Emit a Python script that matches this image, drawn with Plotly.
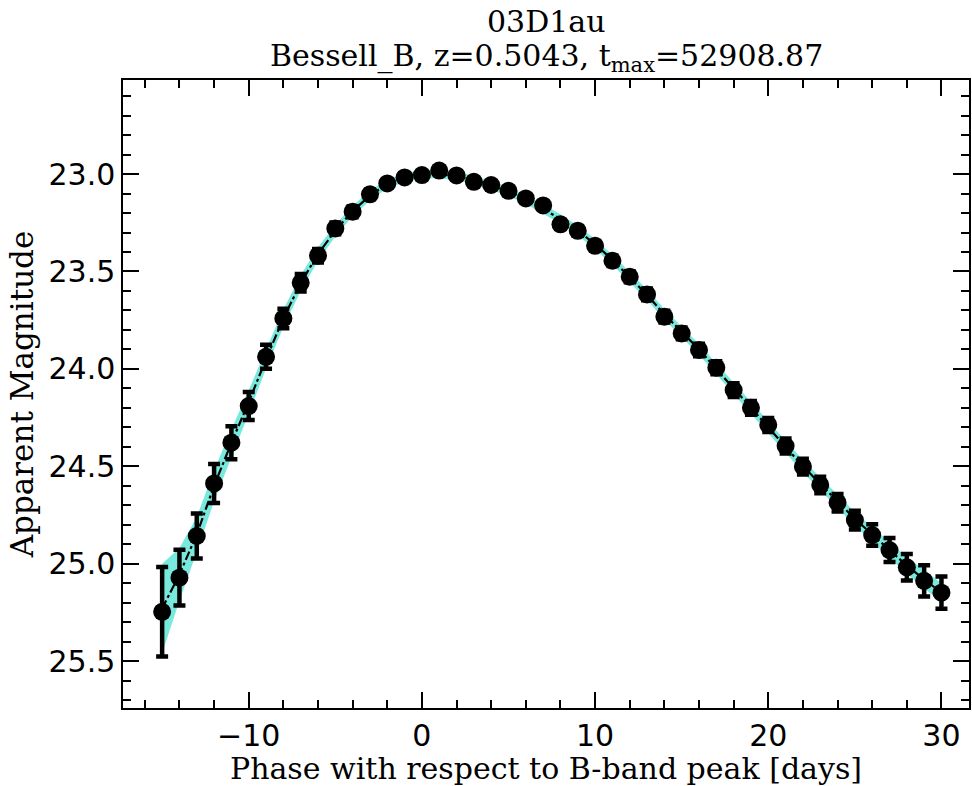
import plotly.graph_objects as go

# ---- data ----
phase = list(range(-15, 31))
mag = [25.247, 25.072, 24.858, 24.588, 24.379, 24.191, 23.938, 23.741, 23.558, 23.419,
       23.279, 23.193, 23.104, 23.048, 23.017, 23.005, 22.982, 23.007, 23.040, 23.056,
       23.086, 23.125, 23.161, 23.258, 23.291, 23.368, 23.445, 23.527, 23.618, 23.732,
       23.818, 23.903, 23.994, 24.109, 24.200, 24.288, 24.396, 24.502, 24.596, 24.687,
       24.776, 24.853, 24.930, 25.019, 25.088, 25.149]
mag_err = [0.230, 0.143, 0.115, 0.100, 0.085, 0.072, 0.062, 0.050, 0.045, 0.035,
           0.030, 0.028, 0.025, 0.022, 0.020, 0.020, 0.020, 0.020, 0.020, 0.020,
           0.020, 0.022, 0.022, 0.024, 0.025, 0.025, 0.027, 0.028, 0.030, 0.030,
           0.030, 0.032, 0.033, 0.035, 0.035, 0.036, 0.038, 0.040, 0.042, 0.045,
           0.048, 0.055, 0.062, 0.068, 0.080, 0.083]
model = [25.23, 25.055, 24.85, 24.60, 24.38, 24.17, 23.95, 23.74, 23.56, 23.41,
         23.29, 23.19, 23.11, 23.05, 23.02, 23.00, 23.00, 23.01, 23.03, 23.06,
         23.09, 23.13, 23.18, 23.23, 23.29, 23.36, 23.44, 23.53, 23.62, 23.72,
         23.81, 23.90, 24.00, 24.10, 24.20, 24.30, 24.40, 24.50, 24.59, 24.68,
         24.77, 24.85, 24.93, 25.01, 25.08, 25.15]
model_err = [0.23, 0.135, 0.09, 0.08, 0.07, 0.06, 0.05, 0.045, 0.040, 0.035,
             0.030, 0.027, 0.025, 0.023, 0.022, 0.022, 0.022, 0.022, 0.022, 0.022,
             0.022, 0.023, 0.023, 0.024, 0.025, 0.025, 0.026, 0.026, 0.027, 0.027,
             0.028, 0.028, 0.029, 0.029, 0.030, 0.030, 0.031, 0.032, 0.033, 0.034,
             0.035, 0.037, 0.040, 0.043, 0.047, 0.050]

title_line1 = "03D1au"
title_line2 = "Bessell_B, z=0.5043, t<sub>max</sub>=52908.87"
xlabel = "Phase with respect to B-band peak [days]"
ylabel = "Apparent Magnitude"

upper = [m - e for m, e in zip(model, model_err)]
lower = [m + e for m, e in zip(model, model_err)]

fig = go.Figure()
fig.add_trace(go.Scatter(x=phase + phase[::-1], y=upper + lower[::-1], fill="toself",
                         fillcolor="rgba(64,224,208,0.7)", line=dict(width=0),
                         mode="lines", hoverinfo="skip", showlegend=False))
fig.add_trace(go.Scatter(x=phase, y=model, mode="lines",
                         line=dict(color="black", width=2.2, dash="dashdot"),
                         showlegend=False))
fig.add_trace(go.Scatter(x=phase, y=mag, mode="markers",
                         marker=dict(color="black", size=18, line=dict(width=0)),
                         error_y=dict(type="data", array=mag_err, color="black",
                                      thickness=4.5, width=6),
                         showlegend=False))

serif = "DejaVu Serif"
sans = "DejaVu Sans"
FS = 31
axis_common = dict(showline=True, linecolor="black", linewidth=1.5, mirror="allticks",
                   ticks="inside", ticklen=16, tickwidth=1.5, tickcolor="black",
                   showgrid=False, zeroline=False,
                   tickfont=dict(family=sans, size=FS - 1, color="black"))

fig.update_layout(
    width=972, height=786,
    margin=dict(l=123, r=1, t=80, b=78),
    paper_bgcolor="white", plot_bgcolor="white",
    xaxis=dict(range=[-17.26, 31.59], tickmode="array", tickvals=[-10, 0, 10, 20, 30],
               ticktext=["\u221210", "0", "10", "20", "30"],
               minor=dict(ticks="inside", ticklen=8, tickwidth=1.5, tickcolor="black",
                          dtick=2, tick0=0),
               title=dict(text=xlabel, font=dict(family=serif, size=FS - 1, color="black"),
                          standoff=10),
               ticklabelstandoff=0,
               **axis_common),
    yaxis=dict(range=[25.741, 22.517], tickmode="array",
               tickvals=[23.0, 23.5, 24.0, 24.5, 25.0, 25.5],
               ticktext=["23.0", "23.5", "24.0", "24.5", "25.0", "25.5"],
               minor=dict(ticks="inside", ticklen=8, tickwidth=1.5, tickcolor="black",
                          dtick=0.1, tick0=0),
               title=dict(text=ylabel, font=dict(family=serif, size=FS, color="black"),
                          standoff=6),
               ticklabelstandoff=0,
               **axis_common),
    annotations=[
        dict(text=title_line1, xref="paper", yref="paper", x=0.5, y=1.0924,
             xanchor="center", yanchor="middle", showarrow=False,
             font=dict(family=serif, size=FS - 1, color="black")),
        dict(text=title_line2, xref="paper", yref="paper", x=0.5, y=1.0366,
             xanchor="center", yanchor="middle", showarrow=False,
             font=dict(family=serif, size=FS - 1, color="black")),
    ],
)

fig.write_html("out.html")
